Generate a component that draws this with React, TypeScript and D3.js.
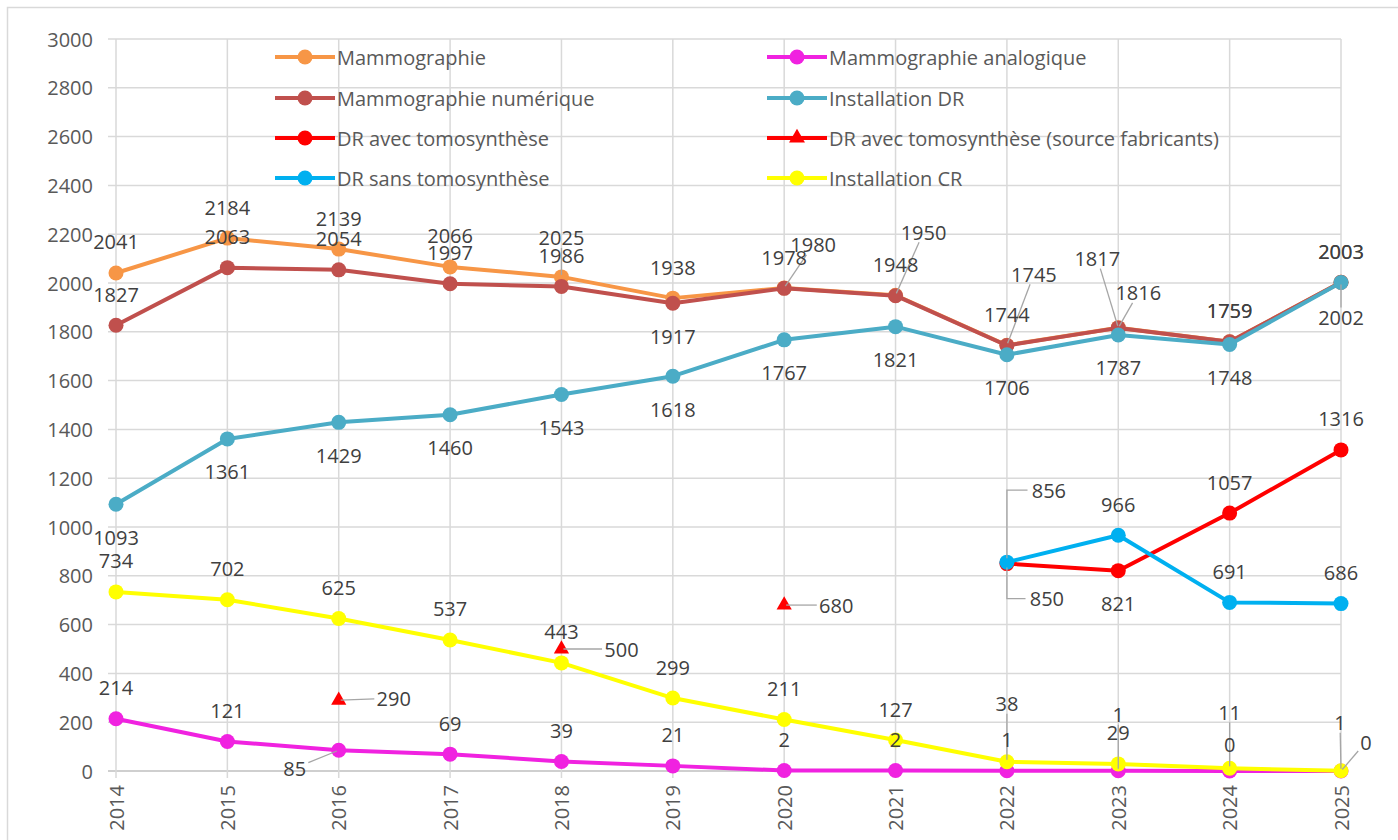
import React from "react";
import * as d3 from "d3";

// years on the x axis
const years = ["2014", "2015", "2016", "2017", "2018", "2019", "2020", "2021", "2022", "2023", "2024", "2025"];
const yTicks = [0, 200, 400, 600, 800, 1000, 1200, 1400, 1600, 1800, 2000, 2200, 2400, 2600, 2800, 3000];

const mammographie = [2041, 2184, 2139, 2066, 2025, 1938, 1980, 1950, 1745, 1817, 1759, 2003];
const analogique = [214, 121, 85, 69, 39, 21, 2, 2, 1, 1, 0, 0];
const numerique = [1827, 2063, 2054, 1997, 1986, 1917, 1978, 1948, 1744, 1816, 1759, 2003];
const installDR = [1093, 1361, 1429, 1460, 1543, 1618, 1767, 1821, 1706, 1787, 1748, 2002];
const avecTomo = [null, null, null, null, null, null, null, null, 850, 821, 1057, 1316];
const avecTomoFab = [null, null, 290, null, 500, null, 680, null, null, null, null, null];
const sansTomo = [null, null, null, null, null, null, null, null, 856, 966, 691, 686];
const installCR = [734, 702, 625, 537, 443, 299, 211, 127, 38, 29, 11, 1];

// label placement: "a" above, "b" below, or [dx, dy, leader] (1 = straight, 2 = elbow)
type Lbl = "a" | "b" | [number, number, number] | null;
const mammoLbl: Lbl[] = ["a", "a", "a", "a", [0, -39, 1], "a", [29, -43, 1], [28, -63, 1], [27, -71, 1], [-21, -69, 1], "a", "a"];
const analogLbl: Lbl[] = ["a", "a", [-44, 18, 1], "a", "a", "a", "a", "a", "a", [0, -56, 1], [0, -27, 0], [25, -29, 1]];
const numLbl: Lbl[] = ["a", "a", "a", "a", "a", "b", "a", "a", "a", [20, -35, 1], "a", "a"];
const drLbl: Lbl[] = ["b", "b", "b", "b", "b", "b", "b", "b", "b", "b", "b", [0, 35, 1]];
const avecLbl: Lbl[] = [null, null, null, null, null, null, null, null, [40, 35, 2], "b", "a", "a"];
const fabLbl: Lbl[] = [null, null, [55, -2, 1], null, [60, 0, 1], null, [52, 0, 1], null, null, null, null, null];
const sansLbl: Lbl[] = [null, null, null, null, null, null, null, null, [42, -72, 2], "a", "a", "a"];
const crLbl: Lbl[] = ["a", "a", "a", "a", "a", "a", "a", "a", [0, -58, 1], "a", [0, -56, 1], [-1, -48, 1]];

const series = [
  { name: "Mammographie", values: mammographie, color: "#F79646", labels: mammoLbl, line: true, marker: "circle" },
  { name: "Mammographie analogique", values: analogique, color: "#F022E0", labels: analogLbl, line: true, marker: "circle" },
  { name: "Mammographie numérique", values: numerique, color: "#C0504D", labels: numLbl, line: true, marker: "circle" },
  { name: "Installation DR", values: installDR, color: "#4BACC6", labels: drLbl, line: true, marker: "circle" },
  { name: "DR avec tomosynthèse", values: avecTomo, color: "#FF0000", labels: avecLbl, line: true, marker: "circle" },
  { name: "DR avec tomosynthèse (source fabricants)", values: avecTomoFab, color: "#FF0000", labels: fabLbl, line: false, marker: "triangle" },
  { name: "DR sans tomosynthèse", values: sansTomo, color: "#00B0F0", labels: sansLbl, line: true, marker: "circle" },
  { name: "Installation CR", values: installCR, color: "#FFFF00", labels: crLbl, line: true, marker: "circle" },
];

const FONT = "'Open Sans', 'Noto Sans', sans-serif";
const LABEL_COLOR = "#404040";
const AXIS_COLOR = "#595959";
const GRID = "#D9D9D9";
const LEADER = "#A6A6A6";

const App = () => {
  const x = d3.scalePoint<string>().domain(years).range([116, 1341]);
  const y = d3.scaleLinear().domain([0, 3000]).range([771, 39]);
  const tri = d3.symbol().type(d3.symbolTriangle).size(100)() as string;
  const triLegend = d3.symbol().type(d3.symbolTriangle).size(110)() as string;

  const line = d3
    .line<number | null>()
    .defined((d) => d != null)
    .x((d, i) => x(years[i]) as number)
    .y((d) => y(d as number));

  const labels: JSX.Element[] = [];
  const leaders: JSX.Element[] = [];
  series.forEach((s, si) => {
    s.values.forEach((v, i) => {
      const l = s.labels[i];
      if (v == null || l == null) return;
      const px = x(years[i]) as number;
      const py = y(v);
      let dx = 0;
      let dy = -31;
      let kind = 0;
      if (l === "b") dy = 33;
      else if (Array.isArray(l)) [dx, dy, kind] = l;
      const lx = px + dx;
      const ly = py + dy;
      const txt = String(v);
      const w = txt.length * 11.6 + 4;
      const h = 20;
      if (kind === 1) {
        const ux = px - lx;
        const uy = py - ly;
        const t = Math.min(ux !== 0 ? w / 2 / Math.abs(ux) : Infinity, uy !== 0 ? h / 2 / Math.abs(uy) : Infinity);
        const len = Math.hypot(ux, uy);
        const sx = lx + ux * t;
        const sy = ly + uy * t;
        const ex = px - (ux / len) * 2;
        const ey = py - (uy / len) * 2;
        leaders.push(<line key={`ld${si}-${i}`} x1={sx} y1={sy} x2={ex} y2={ey} stroke={LEADER} strokeWidth={1.3} />);
      } else if (kind === 2) {
        const sx = lx - w / 2 - 2;
        const ey = py + (dy > 0 ? 4 : -4);
        leaders.push(
          <path key={`ld${si}-${i}`} d={`M${sx},${ly}H${px}V${ey}`} fill="none" stroke={LEADER} strokeWidth={1.3} />
        );
      }
      labels.push(
        <text key={`lb${si}-${i}`} x={lx} y={ly} textAnchor="middle" dominantBaseline="central" fontSize={20} fill={LABEL_COLOR}>
          {txt}
        </text>
      );
    });
  });

  const legendCols = [275, 767];
  const legendRows = [57, 98, 138, 178];

  return (
    <svg width={1398} height={840} style={{ position: "absolute", left: 0, top: 0, background: "#fff" }} fontFamily={FONT}>
      <rect x={7.5} y={7.5} width={1420} height={860} fill="#fff" stroke={GRID} strokeWidth={1.5} />

      {/* grid */}
      {yTicks.map((t) => (
        <line key={`h${t}`} x1={108} x2={1341} y1={y(t)} y2={y(t)} stroke={t === 0 ? "#BFBFBF" : GRID} strokeWidth={1.5} />
      ))}
      {years.map((yr) => (
        <line key={`v${yr}`} x1={x(yr)} x2={x(yr)} y1={y(3000)} y2={778} stroke={GRID} strokeWidth={1.5} />
      ))}

      {/* axis labels */}
      {yTicks.map((t) => (
        <text key={`yt${t}`} x={93} y={y(t)} textAnchor="end" dominantBaseline="central" fontSize={20} fill={AXIS_COLOR}>
          {t}
        </text>
      ))}
      {years.map((yr) => (
        <text
          key={`xt${yr}`}
          transform={`translate(${x(yr)},785) rotate(-90)`}
          textAnchor="end"
          dominantBaseline="central"
          fontSize={20}
          fill={AXIS_COLOR}
        >
          {yr}
        </text>
      ))}

      {/* legend */}
      {series.map((s, i) => {
        const lx = legendCols[i % 2];
        const ly = legendRows[Math.floor(i / 2)];
        return (
          <g key={`lg${i}`}>
            <line x1={lx} x2={lx + 60} y1={ly} y2={ly} stroke={s.color} strokeWidth={4} />
            {s.marker === "circle" ? (
              <circle cx={lx + 30} cy={ly} r={7.5} fill={s.color} />
            ) : (
              <path d={triLegend} transform={`translate(${lx + 30},${ly})`} fill={s.color} />
            )}
            <text x={lx + 62} y={ly} dominantBaseline="central" fontSize={20} fill={AXIS_COLOR}>
              {s.name}
            </text>
          </g>
        );
      })}

      {/* series */}
      {series.map((s, si) => (
        <g key={`s${si}`}>
          {s.line && <path d={line(s.values) as string} fill="none" stroke={s.color} strokeWidth={4} strokeLinejoin="round" />}
          {s.values.map((v, i) =>
            v == null ? null : s.marker === "circle" ? (
              <circle key={i} cx={x(years[i])} cy={y(v)} r={7.5} fill={s.color} />
            ) : (
              <path key={i} d={tri} transform={`translate(${x(years[i])},${y(v)})`} fill={s.color} />
            )
          )}
        </g>
      ))}

      {leaders}
      {labels}
    </svg>
  );
};

export default App;
